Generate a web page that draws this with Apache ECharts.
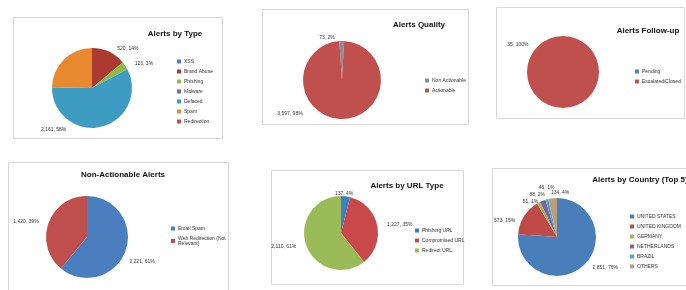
<!DOCTYPE html>
<html>
<head>
<meta charset="utf-8">
<script src="https://cdn.jsdelivr.net/npm/echarts@6/dist/echarts.min.js"></script>
<style>
  html, body { margin: 0; padding: 0; background: #fff; }
  #chart { width: 686px; height: 290px; }
</style>
</head>
<body>
<div id="chart"></div>
<script>
// data for the six panels
var typeNames = ['XSS', 'Brand Abuse', 'Phishing', 'Malware', 'Defaced', 'Spam', 'Redirection'];
var typeValues = [0, 520, 123, 0, 2161, 920, 0];

var qualityNames = ['Non Actionable', 'Actionable'];
var qualityValues = [73, 3597];

var followNames = ['Pending', 'Escalated/Closed'];
var followValues = [0, 35];

var nonActNames = ['Email Spam', 'Web Redirection (Not\nRelevant)'];
var nonActValues = [2221, 1420];

var urlNames = ['Phishing URL', 'Compromised URL', 'Redirect URL'];
var urlValues = [137, 1227, 2110];

var countryNames = ['UNITED STATES', 'UNITED KINGDOM', 'GERMANY', 'NETHERLANDS', 'BRAZIL', 'OTHERS'];
var countryValues = [2851, 573, 51, 88, 46, 134];

var myChart = echarts.init(document.getElementById('chart'));
var font = 'Liberation Sans, Arial, sans-serif';

function items(names, values, hideLabel) {
    return names.map(function(n, i) {
        var d = { name: n, value: values[i] };
        if (values[i] === 0 || (hideLabel && hideLabel.indexOf(i) >= 0)) {
            d.label = { show: false };
        }
        return d;
    });
}

function fmt(p) {
    var v = p.value.toLocaleString('en-US');
    return v + ', ' + Math.round(p.percent) + '%';
}

// nudge: {dataIndex: [dx, dy]} to move a label like Excel's "best fit" does
function pie(cx, cy, r, colors, data, start, nudge, avoid) {
    return {
        type: 'pie',
        center: [cx, cy],
        radius: r,
        startAngle: start || 90,
        clockwise: true,
        color: colors,
        avoidLabelOverlap: !!avoid,
        silent: true,
        data: data,
        label: {
            position: 'outside',
            formatter: fmt,
            fontSize: 5,
            fontFamily: font,
            color: '#333'
        },
        labelLine: { show: false, length: 3, length2: 2 },
        labelLayout: function(p) {
            var n = nudge && nudge[p.dataIndex];
            return n ? { dx: n[0], dy: n[1] } : {};
        },
        itemStyle: { borderWidth: 0 }
    };
}

function legend(names, left, top) {
    return {
        data: names,
        orient: 'vertical',
        left: left,
        top: top,
        icon: 'rect',
        itemWidth: 4,
        itemHeight: 4,
        itemGap: 5,
        selectedMode: false,
        textStyle: { fontSize: 5, fontFamily: font, color: '#333', padding: [0, 0, 0, -2] }
    };
}

function title(text, x, y) {
    return {
        text: text,
        left: x,
        top: y,
        textAlign: 'center',
        textStyle: { fontSize: 8, fontWeight: 'bold', fontFamily: font, color: '#111' }
    };
}

function box(x, y, w, h) {
    return {
        type: 'rect',
        shape: { x: x, y: y, width: w, height: h },
        style: { fill: 'none', stroke: '#d6d6d6', lineWidth: 1 },
        z: -1
    };
}

option = {
    backgroundColor: '#fff',
    animation: false,
    graphic: [
        box(13.5, 17.5, 209, 121),
        box(262.5, 9.5, 206, 115),
        box(496.5, 7.5, 188, 111),
        box(8.5, 162.5, 220, 140),
        box(271.5, 170.5, 192, 114),
        box(492.5, 168.5, 200, 117)
    ],
    title: [
        title('Alerts by Type', 170, 25),
        title('Alerts Quality', 414, 16),
        title('Alerts Follow-up', 643, 22),
        title('Non-Actionable Alerts', 118, 166),
        title('Alerts by URL Type', 402, 177),
        title('Alerts by Country (Top 5)', 635, 171)
    ],
    legend: [
        legend(typeNames, 172, 54),
        legend(qualityNames, 420, 73),
        legend(followNames, 630, 64),
        legend(nonActNames, 166, 221),
        legend(urlNames, 410, 223),
        legend(countryNames, 625, 209)
    ],
    series: [
        pie(92, 88, 40, ['#4f81bd', '#ad3a30', '#8cbb4c', '#8064a2', '#3e9cc3', '#e8892f', '#c0504d'],
            items(typeNames, typeValues, [5]), 90, { 4: [-68, 0] }),
        pie(342, 80, 39, ['#8c8c98', '#c0504d'], items(qualityNames, qualityValues), 94, { 1: [-72, -8] }),
        pie(563, 72, 36, ['#4f81bd', '#c0504d'], items(followNames, followValues), 315),
        pie(87, 237, 41, ['#4a7ebf', '#c0504d'], items(nonActNames, nonActValues), 90, { 0: [-6, 10] }),
        pie(341, 233, 37, ['#3a80c3', '#c9484a', '#9bbb59'], items(urlNames, urlValues), 90, { 0: [-18, 0] }),
        pie(557, 237, 39, ['#4a7ebb', '#be4b48', '#9bbb59', '#8064a2', '#4bacc6', '#b9a07c'],
            items(countryNames, countryValues), 90,
            { 1: [0, -3], 2: [20, -15], 3: [22, -15], 4: [24, -15], 5: [24, -3] }, true)
    ]
};

myChart.setOption(option);
</script>
</body>
</html>
